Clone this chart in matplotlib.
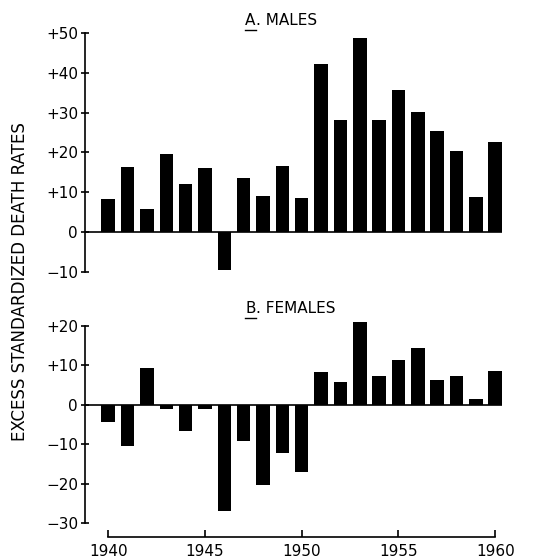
import numpy as np
import matplotlib
matplotlib.use("Agg")
import matplotlib.pyplot as plt
from matplotlib.lines import Line2D

plt.rcParams['font.family'] = ['DejaVu Sans']

# --- data ---
years = list(range(1940, 1961))
males = [8.2, 16.4, 5.9, 19.5, 12.1, 16.2, -9.4, 13.6, 9.0, 16.7, 8.5,
         42.2, 28.1, 48.7, 28.1, 35.6, 30.1, 25.4, 20.3, 8.9, 22.6]
females = [-4.3, -10.4, 9.2, -1.1, -6.8, -1.0, -27.0, -9.3, -20.3, -12.3, -17.1,
           8.3, 5.8, 21.0, 7.2, 11.2, 14.4, 6.3, 7.3, 1.3, 8.4]
male_ticks = [-10, 0, 10, 20, 30, 40, 50]
female_ticks = [-30, -20, -10, 0, 10, 20]
year_ticks = [1940, 1945, 1950, 1955, 1960]


def tick_label(v):
    if v > 0:
        return "+%d" % v
    if v < 0:
        return "\u2212%d" % -v
    return "0"


fig = plt.figure(figsize=(5.46, 5.60), dpi=100)
ax_m = fig.add_axes([0.1557, 0.5143, 0.769, 0.4268])
ax_f = fig.add_axes([0.1557, 0.0661, 0.769, 0.3523])

width = 0.7
xlim = (1938.8, 1960.5)
for ax, vals, ticks in [(ax_m, males, male_ticks), (ax_f, females, female_ticks)]:
    ax.bar(years, vals, width=width, color="black", linewidth=0, clip_on=False)
    ax.hlines(0, xlim[0], years[-1] + width / 2, color="black", lw=1.2)
    ax.set_xlim(*xlim)
    ax.set_ylim(ticks[0], ticks[-1])
    ax.set_yticks(ticks)
    ax.set_yticklabels([tick_label(t) for t in ticks])
    ax.tick_params(axis="y", direction="inout", length=6, width=1.2,
                   labelsize=11, pad=2)
    for s in ["top", "right"]:
        ax.spines[s].set_visible(False)
    ax.spines["left"].set_linewidth(1.2)

ax_m.spines["bottom"].set_visible(False)
ax_m.set_xticks([])

ax_f.spines["bottom"].set_position(("outward", 10))
ax_f.spines["bottom"].set_bounds(year_ticks[0], year_ticks[-1])
ax_f.spines["bottom"].set_linewidth(1.2)
ax_f.set_xticks(year_ticks)
ax_f.tick_params(axis="x", direction="in", length=5, width=1.2, labelsize=11, pad=5)

# panel titles with underlined letter
letters = []
for x, y, letter, rest in [(0.449, 0.955, "A", ". MALES"), (0.449, 0.441, "B", ". FEMALES")]:
    t = fig.text(x, y, letter, fontsize=11, va="baseline")
    ax_m.annotate(rest, xy=(1, 0), xycoords=t, fontsize=11, va="bottom",
                  annotation_clip=False)
    letters.append(t)

fig.text(0.037, 0.497, "EXCESS STANDARDIZED DEATH RATES", rotation=90,
         fontsize=12, ha="center", va="center")

fig.canvas.draw()
inv = fig.transFigure.inverted()
for t in letters:
    bb = t.get_window_extent()
    (x0, y0), (x1, _) = inv.transform([(bb.x0, bb.y0 - 2), (bb.x1, bb.y0 - 2)])
    fig.add_artist(Line2D([x0, x1], [y0, y0], color="black", lw=1.0,
                          transform=fig.transFigure))

fig.savefig("out.png", dpi=100)
